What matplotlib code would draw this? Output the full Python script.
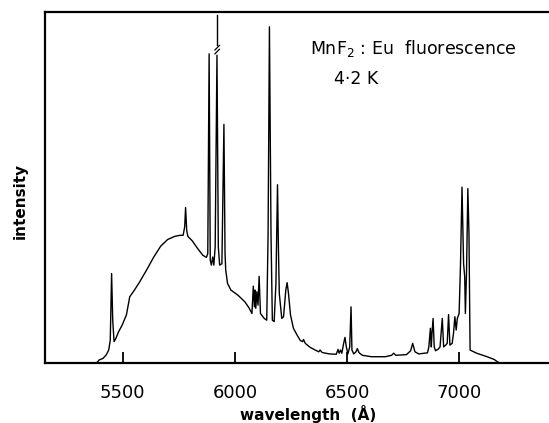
import numpy as np
import matplotlib.pyplot as plt

# spectrum (wavelength in Angstrom, intensity in % of frame height)
wavelength = [5384, 5395, 5411, 5426, 5437, 5444, 5450, 5455, 5461, 5469,
              5481, 5497, 5516, 5531, 5552, 5575, 5606, 5638, 5669, 5700,
              5732, 5755, 5769, 5776, 5780, 5785, 5790, 5810, 5834, 5857,
              5873, 5879, 5885, 5890, 5895, 5901, 5906, 5912, 5920, 5926,
              5932, 5942, 5951, 5956, 5959, 5967, 5982, 6014, 6045, 6064,
              6076, 6082, 6087, 6090, 6093, 6098, 6103, 6108, 6114, 6131,
              6142, 6148, 6154, 6161, 6167, 6175, 6183, 6190, 6194, 6198,
              6209, 6217, 6227, 6233, 6239, 6248, 6261, 6277, 6292, 6302,
              6306, 6314, 6335, 6358, 6374, 6380, 6389, 6421, 6452, 6460,
              6465, 6471, 6477, 6485, 6491, 6497, 6504, 6512, 6518, 6522,
              6530, 6540, 6546, 6554, 6569, 6609, 6671, 6699, 6708, 6718,
              6765, 6784, 6793, 6803, 6820, 6859, 6865, 6872, 6876, 6879,
              6884, 6889, 6895, 6906, 6915, 6925, 6931, 6940, 6947, 6953,
              6959, 6969, 6975, 6981, 6987, 6992, 7000, 7006, 7013, 7017,
              7020, 7025, 7028, 7033, 7039, 7044, 7049, 7078, 7125, 7157,
              7172, 7180]
intensity = [0.0, 0.8, 1.2, 2.2, 3.6, 6.4, 25.4, 12.1, 6.0, 6.9,
             8.8, 10.7, 13.6, 18.8, 20.7, 23.0, 26.4, 30.1, 33.2, 35.1,
             36.0, 36.3, 36.3, 38.7, 44.2, 37.7, 36.0, 34.7, 32.5, 30.6,
             30.0, 31.1, 88.0, 29.2, 27.8, 30.1, 27.8, 33.0, 87.6, 33.0,
             27.8, 28.2, 67.9, 31.1, 26.4, 22.6, 20.7, 19.2, 17.3, 15.5,
             14.0, 21.8, 15.9, 20.7, 15.5, 20.2, 16.4, 24.6, 14.0, 12.6,
             12.1, 36.8, 95.7, 36.8, 12.1, 11.7, 22.6, 50.7, 33.0, 19.7,
             12.6, 13.1, 20.7, 22.8, 19.7, 13.6, 9.8, 7.9, 6.3, 6.0,
             6.6, 5.5, 4.4, 3.6, 3.1, 3.6, 2.9, 2.5, 2.4, 3.8,
             2.7, 3.6, 2.7, 5.5, 7.2, 4.5, 2.5, 4.5, 15.9, 3.6,
             2.5, 3.1, 4.0, 2.8, 2.1, 1.7, 1.7, 2.1, 2.7, 2.1,
             2.3, 3.4, 5.5, 3.1, 2.5, 2.8, 4.5, 9.8, 4.5, 8.3,
             12.6, 4.5, 3.4, 3.8, 4.5, 12.6, 4.5, 5.0, 5.5, 13.7,
             5.0, 5.5, 8.3, 13.1, 9.3, 12.6, 14.0, 27.3, 50.0, 36.8,
             28.2, 24.5, 14.0, 25.4, 49.6, 36.8, 3.6, 2.7, 1.7, 0.9,
             0.2, 0.0]

# off-scale line at 5920 A: upper part drawn above the break
broken_line = 5920
broken_top = [90.5, 99.0]

ticks = [5500, 6000, 6500, 7000]

fig = plt.figure(figsize=(5.49, 4.23), dpi=100)
ax = fig.add_axes([0.082, 0.1426, 0.918, 0.8297])

ax.plot(wavelength, intensity, color='black', lw=1.0)
ax.plot([broken_line + 1, broken_line + 1], broken_top, color='black', lw=1.0)
# break mark //
ax.plot([5911, 5931], [88.0, 89.3], color='black', lw=0.9)
ax.plot([5911, 5931], [89.1, 90.4], color='black', lw=0.9)

ax.set_xlim(5153, 7401)
ax.set_ylim(0, 100)

for s in ['left', 'top', 'bottom']:
    ax.spines[s].set_linewidth(1.6)
ax.spines['right'].set_visible(False)

ax.set_xticks(ticks)
ax.set_xticklabels([str(t) for t in ticks])
ax.set_yticks([])
ax.tick_params(axis='x', direction='in', length=8, width=1.3,
               pad=15, labelsize=13)

ax.set_xlabel('wavelength  (Å)', fontsize=11, fontweight='bold', va='center')
ax.xaxis.set_label_coords(0.523, -0.145)
ax.set_ylabel('intensity', fontsize=11, fontweight='bold', va='center')
ax.yaxis.set_label_coords(-0.05, 0.46)

ax.text(6337, 89.5, r'MnF$_2$ : Eu  fluorescence', fontsize=12.5,
        ha='left', va='center')
ax.text(6440, 80.8, '4·2 K', fontsize=12.5, ha='left', va='center')

plt.savefig('out.png', dpi=100)
